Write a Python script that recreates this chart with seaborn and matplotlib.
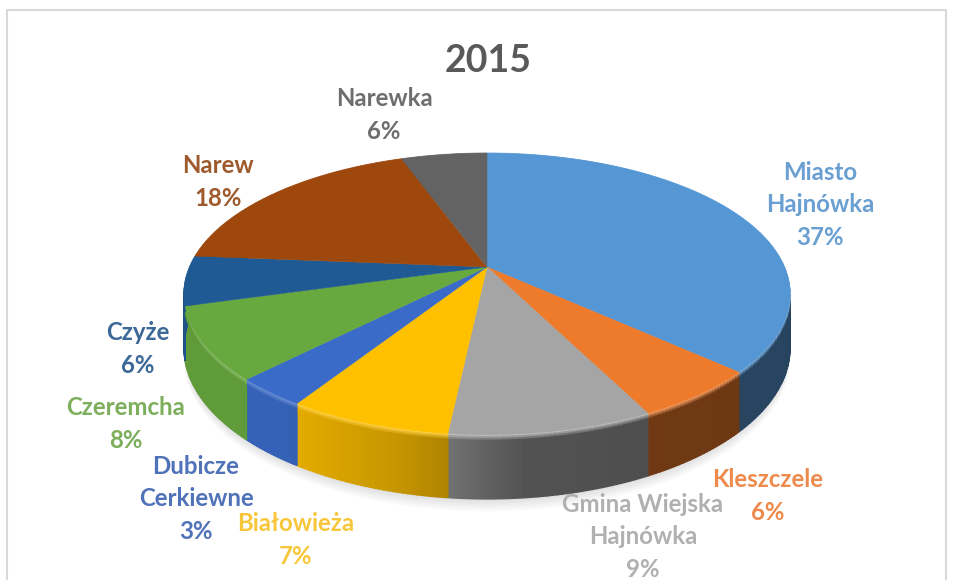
## Pie 2015, drawn as a tilted disc

#----------------------------------------------------
# import
#----------------------------------------------------

import numpy as np
import matplotlib
matplotlib.use("Agg")
import matplotlib.pyplot as plt
import seaborn as sns

#----------------------------------------------------
# data
#----------------------------------------------------

TITLE = "2015"
NAMES = ["Miasto\nHajnówka", "Kleszczele", "Gmina Wiejska\nHajnówka", "Białowieża",
         "Dubicze\nCerkiewne", "Czeremcha", "Czyże", "Narew", "Narewka"]
# shares, the labels show them rounded
SHARES = [36.8, 5.8, 9.1, 7.3, 3.3, 8.3, 5.7, 18.2, 5.5]

TOP_COLORS = ["#5596d4", "#ee7a2b", "#a5a5a5", "#ffc000", "#3a6bc8",
              "#68a93f", "#1f5a94", "#9e480e", "#636363"]
TEXT_COLORS = ["#6a9fd2", "#ed8a4c", "#b0b0b0", "#f7c63a", "#4f72b8",
               "#7cae5c", "#3b6896", "#9e5a2c", "#6e6e6e"]

#----------------------------------------------------
# layout, in pixels of the 955x580 picture
#----------------------------------------------------

CX, CY = 487.0, 267.0
RX, RY = 297.4, 135.6
PERSP = 0.191
DEPTH = 52.0
BEVEL = 6.0

LABEL_POS = [(820, 205), (768, 496), (643, 537), (296, 540), (196, 499),
             (126, 424), (138, 349), (218, 182), (384, 115)]

#----------------------------------------------------
# projection of the disc
#----------------------------------------------------

def project(theta, r=1.0, drop=0.0):
    # theta runs clockwise from 12 o'clock, the far side of the disc is squeezed
    u = r * np.sin(theta)
    v = r * np.cos(theta)
    w = 1.0 + PERSP * v
    return CX + RX * u / w, CY - RY * v / w + drop / w

def wall_shade(theta):
    # the wall is lit from the left, dark on the right
    x = np.sin(theta)
    return np.interp(x, [-1.0, -0.6, -0.25, -0.1, 0.1, 0.45, 1.0],
                     [0.92, 0.92, 0.78, 0.68, 0.50, 0.47, 0.45])

def darker(color, factor):
    return tuple(np.array(matplotlib.colors.to_rgb(color)) * factor)

def lighter(color, factor):
    c = np.array(matplotlib.colors.to_rgb(color))
    return tuple(c + (1.0 - c) * factor)

#----------------------------------------------------
# draw
#----------------------------------------------------

def draw_shadow(ax):
    t = np.linspace(np.pi * 0.35, np.pi * 1.65, 200)
    for extra in [10, 8, 6, 4, 2]:
        x, y = project(t, 1.0, DEPTH + extra)
        ax.fill(x, y, color="#000000", alpha=0.025, lw=0, zorder=1)

def draw_walls(ax, edges):
    for i, color in enumerate(TOP_COLORS):
        steps = np.linspace(edges[i], edges[i + 1], int(SHARES[i] * 4) + 5)
        for a, b in zip(steps[:-1], steps[1:]):
            t = np.linspace(a, b, 4)
            mid = (a + b) / 2.0
            wall = darker(color, wall_shade(mid))
            # main band
            x0, y0 = project(t, 1.0, BEVEL)
            x1, y1 = project(t[::-1], 1.0, DEPTH)
            ax.fill(np.r_[x0, x1], np.r_[y0, y1], color=wall, lw=1.0, zorder=2)
            # soft bevel between top and wall
            band = sns.blend_palette([lighter(color, 0.25), wall], 4)
            for k in range(4):
                x0, y0 = project(t, 1.0, BEVEL * k / 4.0)
                x1, y1 = project(t[::-1], 1.0, BEVEL * (k + 1) / 4.0)
                ax.fill(np.r_[x0, x1], np.r_[y0, y1], color=band[k], lw=0.8, zorder=3)

def draw_top(ax, edges):
    for i, color in enumerate(TOP_COLORS):
        t = np.linspace(edges[i], edges[i + 1], 120)
        x, y = project(t)
        ax.fill(np.r_[CX, x], np.r_[CY, y], color=color, lw=0.3, zorder=4)

def draw_labels(ax):
    for name, share, color, pos in zip(NAMES, SHARES, TEXT_COLORS, LABEL_POS):
        ax.text(pos[0], pos[1], f"{name}\n{share:.0f}%", color=color, fontsize=17.3,
                fontweight="bold", ha="center", va="center", linespacing=1.48, zorder=6)

#----------------------------------------------------
# Main
#----------------------------------------------------

def main():
    sns.set_theme(style="white")
    plt.rcParams['font.family'] = ['Lato', 'DejaVu Sans']

    fig = plt.figure(figsize=(9.55, 5.8), dpi=100, facecolor="white")
    ax = fig.add_axes([0, 0, 1, 1])
    ax.set_xlim(0, 955)
    ax.set_ylim(580, 0)
    ax.axis("off")

    # chart frame, runs off the bottom of the picture
    ax.plot([7, 7, 946, 946], [600, 10, 10, 600], color="#d9d9d9", lw=1.5, zorder=0)

    edges = np.r_[0.0, np.cumsum(SHARES)] / np.sum(SHARES) * 2.0 * np.pi

    draw_shadow(ax)
    draw_walls(ax, edges)
    draw_top(ax, edges)
    draw_labels(ax)

    ax.text(488, 61, TITLE, color="#595959", fontsize=27, fontweight="bold",
            ha="center", va="center", zorder=6)

    fig.savefig("out.png", dpi=100)
    return


if __name__ == '__main__':
    main()
